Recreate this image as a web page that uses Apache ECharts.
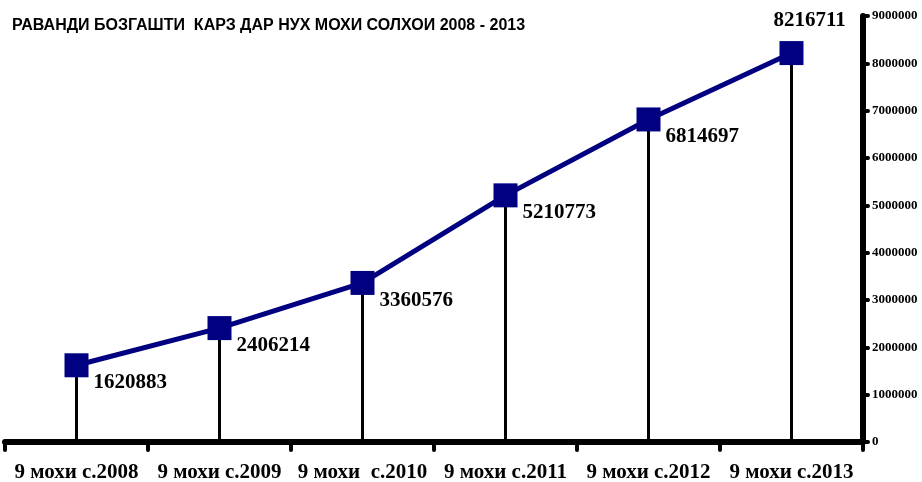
<!DOCTYPE html>
<html><head><meta charset="utf-8">
<script src="https://cdn.jsdelivr.net/npm/echarts@6/dist/echarts.min.js"></script>
<style>html,body{margin:0;padding:0;background:#fff}#c{width:922px;height:482px}</style>
</head><body><div id="c"></div>
<script>
var titleText = 'РАВАНДИ БОЗГАШТИ  КАРЗ ДАР НУХ МОХИ СОЛХОИ 2008 - 2013';
var categories = ['9 мохи с.2008', '9 мохи с.2009', '9 мохи  с.2010', '9 мохи с.2011', '9 мохи с.2012', '9 мохи с.2013'];
var values = [1620883, 2406214, 3360576, 5210773, 6814697, 8216711];
var yMin = 0, yMax = 9000000, yStep = 1000000;

var serif = 'Liberation Serif';
var lineData = values.map(function (v, i) {
  var d = { value: v };
  if (i === values.length - 1) {
    d.label = { position: [-6, -31] };
  }
  return d;
});
var chart = echarts.init(document.getElementById('c'));
chart.setOption({
  backgroundColor: '#fff',
  animation: false,
  title: {
    text: titleText, left: 12, top: 18, padding: 0,
    textStyle: { fontFamily: 'Liberation Sans', fontWeight: 'bold', fontSize: 16, color: '#000' }
  },
  grid: { left: 5, right: 59, top: 16, bottom: 40, outerBoundsMode: 'none', containLabel: false },
  xAxis: {
    type: 'category', data: categories, boundaryGap: true,
    axisLine: { lineStyle: { color: '#000', width: 6, cap: 'round' } },
    axisTick: { show: true, interval: 0, length: 8, lineStyle: { color: '#000', width: 4, cap: 'round' } },
    axisLabel: { interval: 0, hideOverlap: false, margin: 20, color: '#000', fontFamily: serif, fontWeight: 'bold', fontSize: 21 }
  },
  yAxis: {
    type: 'value', position: 'right', min: yMin, max: yMax, interval: yStep,
    splitLine: { show: false },
    axisLine: { show: true, lineStyle: { color: '#000', width: 6, cap: 'round' } },
    axisTick: { show: true, length: 5, lineStyle: { color: '#000', width: 4, cap: 'round' } },
    axisLabel: {
      margin: 9, color: '#000', fontFamily: serif, fontWeight: 'bold', fontSize: 13,
      formatter: function (v) { return String(v); }
    }
  },
  series: [
    {
      type: 'bar', data: values, barWidth: 3, itemStyle: { color: '#000' }, z: 1, silent: true
    },
    {
      type: 'line', data: lineData, z: 3,
      symbol: 'rect', symbolSize: 24,
      lineStyle: { color: '#000080', width: 5 },
      itemStyle: { color: '#000080' },
      label: {
        show: true, position: [29, 19], align: 'left', verticalAlign: 'top',
        color: '#000', fontFamily: serif, fontWeight: 'bold', fontSize: 21
      }
    }
  ]
});
</script></body></html>
